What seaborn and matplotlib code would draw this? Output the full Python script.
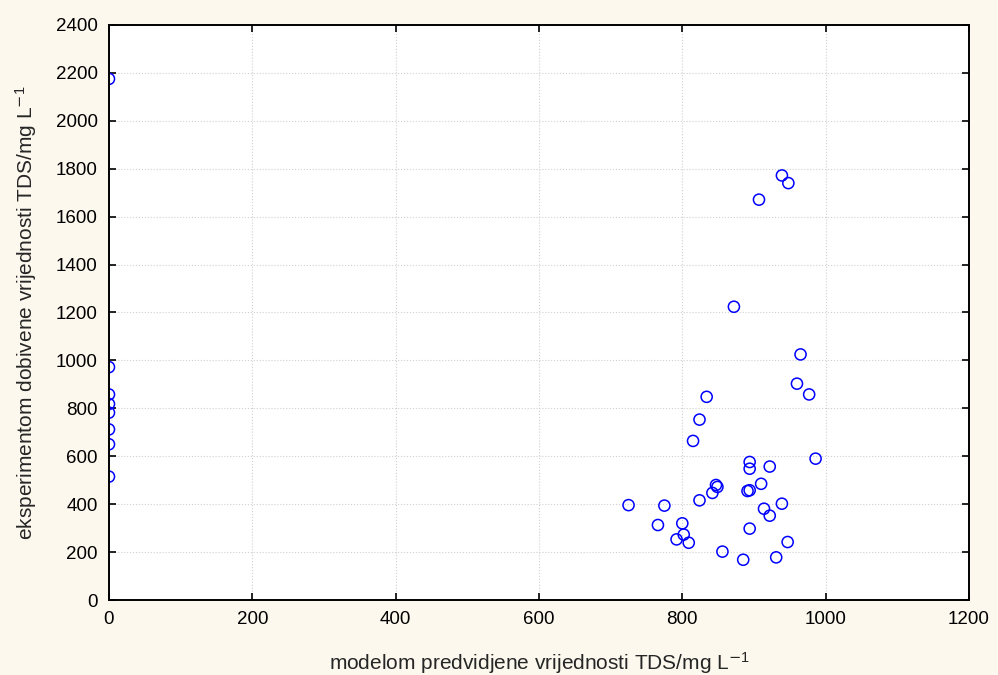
import matplotlib
matplotlib.use('Agg')
import matplotlib.pyplot as plt
import seaborn as sns
import pandas as pd

# values (mg/L)
predicted = [0, 0, 0, 0, 0, 0, 0, 0,
             939, 948, 907, 872, 965, 960, 977, 834, 824, 815,
             894, 894, 922, 986, 910, 847, 849, 842, 891, 894,
             824, 725, 775, 939, 914, 922, 766, 800, 802, 792,
             809, 894, 947, 856, 885, 931]
measured = [2175, 972, 858, 818, 782, 712, 650, 515,
            1772, 1740, 1671, 1224, 1025, 903, 858, 848, 753, 664,
            576, 548, 557, 590, 485, 480, 472, 447, 455, 458,
            416, 396, 394, 402, 381, 352, 313, 320, 273, 253,
            239, 298, 242, 202, 168, 178]

x_ticks = [0, 200, 400, 600, 800, 1000, 1200]
y_ticks = list(range(0, 2401, 200))

df = pd.DataFrame({'predicted': predicted, 'measured': measured})

sns.set_style('whitegrid')
plt.rcParams['font.family'] = ['Liberation Sans', 'DejaVu Sans']
plt.rcParams['mathtext.default'] = 'regular'

fig = plt.figure(figsize=(9.98, 6.75), dpi=100, facecolor='#fcf8ee')
ax = fig.add_axes([0.1092, 0.1111, 0.8617, 0.8519])
ax.set_facecolor('white')

sns.scatterplot(data=df, x='predicted', y='measured', ax=ax,
                marker='o', s=64, facecolors='none', edgecolors='#0000ff',
                linewidth=1.1, zorder=3)

ax.set_xlim(0, 1200)
ax.set_ylim(0, 2400)
ax.set_xticks(x_ticks)
ax.set_yticks(y_ticks)

# dotted light grid, black frame with inward ticks on all sides
ax.grid(True, color='#d0d0d0', linestyle=':', linewidth=0.8)
for side in ['left', 'right', 'top', 'bottom']:
    ax.spines[side].set_color('black')
    ax.spines[side].set_linewidth(1.4)
    ax.spines[side].set_zorder(4)
ax.tick_params(direction='in', length=5, width=1.2, colors='black',
               labelsize=13.5, top=True, right=True, left=True, bottom=True,
               labeltop=False, labelright=False, pad=8)

ax.set_xlabel('modelom predvidjene vrijednosti TDS/mg L$^{\\mathrm{-}1}$',
              fontsize=15, labelpad=16)
ax.set_ylabel('eksperimentom dobivene vrijednosti TDS/mg L$^{\\mathrm{-}1}$',
              fontsize=15, labelpad=12)

fig.savefig('out.png', dpi=100, facecolor=fig.get_facecolor())
